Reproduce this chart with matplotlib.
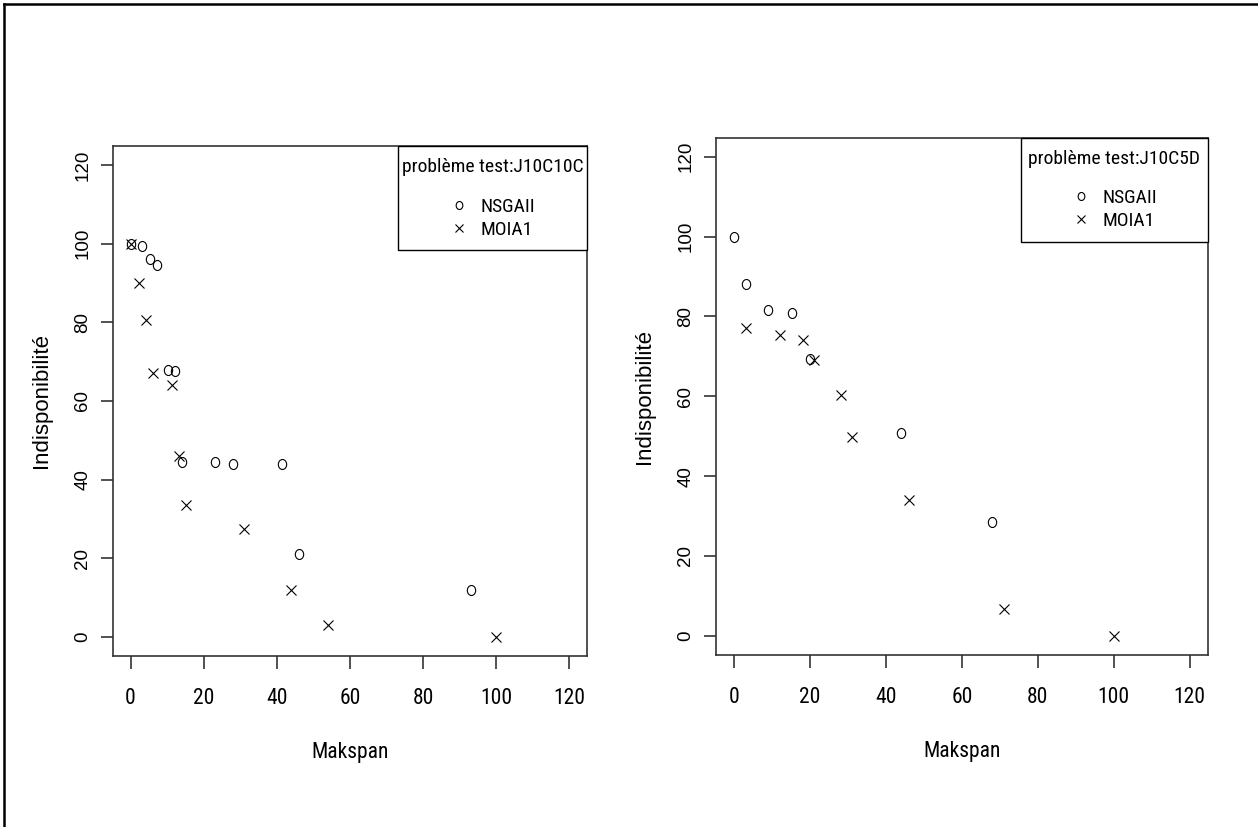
import matplotlib
matplotlib.use("Agg")
import matplotlib.pyplot as plt
from matplotlib import font_manager
from matplotlib.font_manager import FontProperties
from matplotlib.lines import Line2D
from matplotlib.markers import MarkerStyle
from matplotlib.patches import Rectangle
from matplotlib.transforms import Affine2D

# --- data ---
left_title = "problème test:J10C10C"
left_nsga_x = [0, 3, 5.3, 7.3, 10.3, 12.2, 14.2, 23, 28, 41.3, 46, 93]
left_nsga_y = [100, 99.5, 96, 94.5, 68, 67.5, 44.5, 44.5, 44, 44, 21, 12]
left_moia_x = [0, 2.3, 4.3, 6.2, 11.3, 13.2, 15.2, 31, 44, 54, 100]
left_moia_y = [100, 90, 80.5, 67, 64, 46, 33.5, 27.5, 12, 3, 0]

right_title = "problème test:J10C5D"
right_nsga_x = [0, 3, 9, 15.2, 20, 44, 68]
right_nsga_y = [100, 88, 81.7, 80.8, 69.3, 50.7, 28.5]
right_moia_x = [3.2, 12, 18, 21, 28, 31, 46, 71, 100]
right_moia_y = [77, 75.3, 74.2, 69, 60.4, 49.7, 34, 6.6, 0]

series_labels = ["NSGAII", "MOIA1"]
ticks = [0, 20, 40, 60, 80, 100, 120]
x_label = "Makspan"
y_label = "Indisponibilité"

W, H = 1258, 827


def pick_narrow():
    """Look for an installed narrow sans face, None if there is none."""
    ttf = font_manager.fontManager.ttflist
    names = {f.name for f in ttf}
    for fam in ["Liberation Sans Narrow", "Arial Narrow", "Roboto Condensed",
                "Noto Sans Condensed", "Open Sans Condensed"]:
        if fam in names:
            return fam
    for f in ttf:
        if (f.name in ("Roboto", "Noto Sans", "Open Sans", "Liberation Sans")
                and str(f.stretch) in ("condensed", "semi-condensed")
                and f.style == "normal" and f.weight in (400, "normal", "regular")):
            return f.fname
    return None


def narrow_font(size):
    if narrow is None:
        return FontProperties(family="Liberation Sans", size=size * 0.88)
    if narrow.endswith((".ttf", ".otf")):
        return FontProperties(fname=narrow, size=size)
    return FontProperties(family=narrow, size=size)


narrow = pick_narrow()
upright_font = narrow_font(15.5)
legend_font = narrow_font(14)
rot_font = FontProperties(family="Liberation Sans", size=13.5)
ylab_font = FontProperties(family="Liberation Sans", size=16)

AX_COLOR = "#333333"
circle = MarkerStyle("o", fillstyle="none", transform=Affine2D().scale(1.0, 1.2))


def px_rect(left, top, right, bottom):
    return [left / W, 1 - bottom / H, (right - left) / W, (bottom - top) / H]


def draw_panel(ax, nx, ny, mx, my, title, box_px):
    ax.plot(nx, ny, linestyle="none", marker=circle, markersize=6,
            markeredgecolor="black", markeredgewidth=0.8, label=series_labels[0])
    ax.plot(mx, my, linestyle="none", marker="x", markersize=7.5,
            color="black", markeredgewidth=0.8, label=series_labels[1])
    ax.set_xlim(-4.8, 124.8)
    ax.set_ylim(-4.8, 124.8)
    ax.set_xticks(ticks)
    ax.set_yticks(ticks)
    for s in ax.spines.values():
        s.set_color(AX_COLOR)
        s.set_linewidth(1.2)
    ax.tick_params(axis="x", direction="out", length=9, width=1.2,
                   color=AX_COLOR, pad=14)
    ax.tick_params(axis="y", direction="out", length=8.5, width=1.2,
                   color=AX_COLOR, pad=7)
    for lab in ax.get_xticklabels():
        lab.set_fontproperties(upright_font)
    for lab in ax.get_yticklabels():
        lab.set_fontproperties(rot_font)
        lab.set_rotation(90)
        lab.set_va("center")
    ax.set_xlabel(x_label, fontproperties=upright_font, labelpad=24)
    ax.set_ylabel(y_label, fontproperties=ylab_font, labelpad=16)

    # R-style legend frame: wider bottom margin than matplotlib gives,
    # so the frame is drawn separately and the legend sits inside it
    bw, bh = box_px
    ax_w = ax.get_position().width * W
    ax_h = ax.get_position().height * H
    fx, fy = 1 - bw / ax_w, 1 - bh / ax_h
    ax.add_patch(Rectangle((fx, fy), 1 - fx, 1 - fy, transform=ax.transAxes,
                           facecolor="white", edgecolor="black", linewidth=1.0,
                           clip_on=False, zorder=4))
    leg = ax.legend(title=title + "\n", loc="upper center",
                    bbox_to_anchor=((1 + fx) / 2, 1 - 6.5 / ax_h),
                    borderaxespad=0, frameon=False,
                    prop=legend_font, title_fontproperties=legend_font,
                    borderpad=0.3, labelspacing=0.25, handlelength=1.0,
                    handletextpad=0.6, markerscale=0.8)
    leg.get_title().set_linespacing(0.9)
    leg.set_zorder(5)


fig = plt.figure(figsize=(W / 100, H / 100), dpi=100)
ax1 = fig.add_axes(px_rect(113, 146, 587, 656))
ax2 = fig.add_axes(px_rect(716, 137.5, 1208, 655))

draw_panel(ax1, left_nsga_x, left_nsga_y, left_moia_x, left_moia_y,
           left_title, (189, 104))
draw_panel(ax2, right_nsga_x, right_nsga_y, right_moia_x, right_moia_y,
           right_title, (187, 104.5))

# outer frame, only top and left edges visible in the reference
x0, y1 = 4 / W, 1 - 4 / H
fig.add_artist(Line2D([x0, x0], [0, y1], color="black", linewidth=1.8))
fig.add_artist(Line2D([x0, 1], [y1, y1], color="black", linewidth=1.8))

fig.savefig("out.png", dpi=100)
